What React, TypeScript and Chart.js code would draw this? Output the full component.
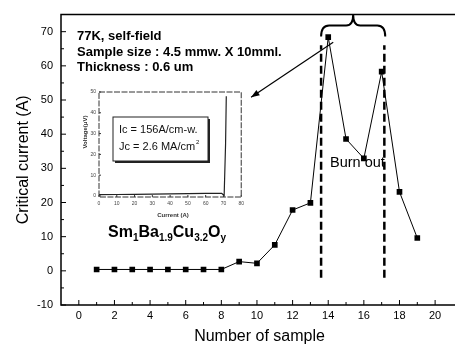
import React, { useEffect, useRef } from "react";
import { Chart, registerables } from "chart.js";

Chart.register(...registerables);

// ---- Data ----
const sampleNumbers = [1, 2, 3, 4, 5, 6, 7, 8, 9, 10, 11, 12, 13, 14, 15, 16, 17, 18, 19];
const criticalCurrent = [0.4, 0.4, 0.4, 0.4, 0.4, 0.4, 0.4, 0.4, 2.7, 2.2, 7.6, 17.8, 19.9, 68.4, 38.6, 32.9, 58.3, 23.1, 9.6];
const xTickValues = [0, 2, 4, 6, 8, 10, 12, 14, 16, 18, 20];
const yTickValues = [-10, 0, 10, 20, 30, 40, 50, 60, 70];
const burnoutLineX = [13.6, 17.15];
const burnoutLineY = [-2, 66];
const braceX = [13.6, 17.2];
const arrowFrom = [14.28, 66.9];
const arrowTo = [9.67, 50.8];
const noteLines = ["77K, self-field", "Sample size : 4.5 mmw. X 10mml.", "Thickness : 0.6 um"];
const burnoutLabel = "Burn out";
const xTitle = "Number of sample";
const yTitle = "Critical current (A)";

const insetCurrent = [0, 10, 20, 30, 40, 50, 60, 69, 70.4, 71.2, 71.6];
const insetVoltage = [0.6, 0.7, 0.8, 0.9, 1.0, 1.1, 1.2, 1.3, 0.2, 25, 48];
const insetXTicks = [0, 10, 20, 30, 40, 50, 60, 70, 80];
const insetYTicks = [0, 10, 20, 30, 40, 50];
const insetNotes = ["Ic = 156A/cm-w.", "Jc = 2.6 MA/cm"];

const FONT = "'Liberation Sans', Arial, sans-serif";

const mainDecor = {
  id: "mainDecor",
  afterDraw(chart: any) {
    const ctx = chart.ctx;
    const { left, right, top, bottom } = chart.chartArea;
    const xs = chart.scales.x;
    const ys = chart.scales.y;
    const px = (v: number) => xs.getPixelForValue(v);
    const py = (v: number) => ys.getPixelForValue(v);
    ctx.save();
    ctx.strokeStyle = "#000";
    ctx.fillStyle = "#000";
    // frame
    ctx.lineWidth = 1.5;
    ctx.beginPath();
    ctx.moveTo(right + 2, top);
    ctx.lineTo(left, top);
    ctx.lineTo(left, bottom);
    ctx.lineTo(right + 2, bottom);
    ctx.stroke();
    // inward ticks
    ctx.lineWidth = 1;
    ctx.beginPath();
    for (let v = 0; v <= 20; v++) {
      const len = v % 2 === 0 ? 5 : 3;
      ctx.moveTo(px(v), bottom);
      ctx.lineTo(px(v), bottom - len);
    }
    for (let v = -10; v <= 70; v += 5) {
      const len = v % 10 === 0 ? 5 : 3;
      ctx.moveTo(left, py(v));
      ctx.lineTo(left + len, py(v));
    }
    ctx.stroke();
    // arrow
    const ax0 = px(arrowFrom[0]), ay0 = py(arrowFrom[1]);
    const ax1 = px(arrowTo[0]), ay1 = py(arrowTo[1]);
    ctx.lineWidth = 1.2;
    ctx.beginPath();
    ctx.moveTo(ax0, ay0);
    ctx.lineTo(ax1, ay1);
    ctx.stroke();
    const ang = Math.atan2(ay1 - ay0, ax1 - ax0);
    ctx.beginPath();
    ctx.moveTo(ax1, ay1);
    ctx.lineTo(ax1 - 9 * Math.cos(ang - 0.35), ay1 - 9 * Math.sin(ang - 0.35));
    ctx.lineTo(ax1 - 9 * Math.cos(ang + 0.35), ay1 - 9 * Math.sin(ang + 0.35));
    ctx.closePath();
    ctx.fill();
    // brace
    const bl = px(braceX[0]), br = px(braceX[1]);
    const bm = (bl + br) / 2;
    const yEnd = top + 22, yBar = top + 11, ySpike = top;
    ctx.lineWidth = 2;
    ctx.beginPath();
    ctx.moveTo(bl, yEnd);
    ctx.quadraticCurveTo(bl, yBar, bl + 8, yBar);
    ctx.lineTo(bm - 7, yBar);
    ctx.quadraticCurveTo(bm, yBar, bm, ySpike);
    ctx.quadraticCurveTo(bm, yBar, bm + 7, yBar);
    ctx.lineTo(br - 8, yBar);
    ctx.quadraticCurveTo(br, yBar, br, yEnd);
    ctx.stroke();
    // notes
    ctx.font = `bold 13px ${FONT}`;
    ctx.textBaseline = "middle";
    ctx.textAlign = "left";
    noteLines.forEach((t, i) => ctx.fillText(t, left + 16, top + 22 + i * 15.5));
    // formula
    let fx = 108;
    const fy = 237;
    const parts: [string, boolean][] = [["Sm", false], ["1", true], ["Ba", false], ["1.9", true], ["Cu", false], ["3.2", true], ["O", false], ["y", true]];
    ctx.textBaseline = "alphabetic";
    parts.forEach(([t, sub]) => {
      ctx.font = sub ? `bold 10px ${FONT}` : `bold 16px ${FONT}`;
      ctx.fillText(t, fx, sub ? fy + 4 : fy);
      fx += ctx.measureText(t).width;
    });
    // burn out
    ctx.font = `14.5px ${FONT}`;
    ctx.textBaseline = "middle";
    ctx.fillText(burnoutLabel, 330, 163);
    // axis titles
    ctx.font = `16px ${FONT}`;
    ctx.textAlign = "center";
    ctx.fillText(xTitle, (left + right) / 2 + 2, 337);
    ctx.save();
    ctx.translate(24, (top + bottom) / 2);
    ctx.rotate(-Math.PI / 2);
    ctx.fillText(yTitle, 0, 0);
    ctx.restore();
    ctx.restore();
  },
};

const insetDecor = {
  id: "insetDecor",
  afterDraw(chart: any) {
    const ctx = chart.ctx;
    const { left, right, top, bottom } = chart.chartArea;
    const xs = chart.scales.x;
    const ys = chart.scales.y;
    ctx.save();
    ctx.strokeStyle = "#333";
    ctx.lineWidth = 1;
    ctx.setLineDash([6, 1.5]);
    ctx.strokeRect(left, top, right - left, bottom - top);
    ctx.setLineDash([]);
    ctx.beginPath();
    insetXTicks.forEach((v) => {
      const x = xs.getPixelForValue(v);
      ctx.moveTo(x, bottom);
      ctx.lineTo(x, bottom - 2);
    });
    insetYTicks.forEach((v) => {
      const y = ys.getPixelForValue(v);
      ctx.moveTo(left, y);
      ctx.lineTo(left + 2, y);
    });
    ctx.stroke();
    // titles
    ctx.fillStyle = "#333";
    ctx.font = `bold 6px ${FONT}`;
    ctx.textAlign = "center";
    ctx.textBaseline = "middle";
    ctx.fillText("Current (A)", 97, 129);
    ctx.save();
    ctx.translate(9, 46);
    ctx.rotate(-Math.PI / 2);
    ctx.fillText("Voltage(\u03bcV)", 0, 0);
    ctx.restore();
    // note box
    const bx = 37, by = 31, bw = 95, bh = 44;
    ctx.fillStyle = "#222";
    ctx.fillRect(bx + 2, by + 2, bw, bh);
    ctx.fillStyle = "#fff";
    ctx.fillRect(bx, by, bw, bh);
    ctx.strokeStyle = "#222";
    ctx.strokeRect(bx, by, bw, bh);
    ctx.fillStyle = "#111";
    ctx.font = `11px ${FONT}`;
    ctx.textAlign = "left";
    ctx.fillText(insetNotes[0], bx + 6, by + 13);
    ctx.fillText(insetNotes[1], bx + 6, by + 30);
    const w = ctx.measureText(insetNotes[1]).width;
    ctx.font = `6px ${FONT}`;
    ctx.fillText("2", bx + 6 + w + 1, by + 25);
    ctx.restore();
  },
};

export default function App() {
  const mainRef = useRef<HTMLCanvasElement>(null);
  const insetRef = useRef<HTMLCanvasElement>(null);

  useEffect(() => {
    const tickFont = { family: FONT, size: 11 };
    const main = new Chart(mainRef.current as HTMLCanvasElement, {
      type: "scatter",
      data: {
        datasets: [
          {
            data: sampleNumbers.map((x, i) => ({ x, y: criticalCurrent[i] })),
            showLine: true,
            borderColor: "#000",
            borderWidth: 1,
            pointStyle: "rect",
            pointRadius: 4,
            pointBackgroundColor: "#000",
            pointBorderWidth: 0,
          },
          ...burnoutLineX.map((x) => ({
            data: burnoutLineY.map((y) => ({ x, y })),
            showLine: true,
            borderColor: "#000",
            borderWidth: 2.5,
            borderDash: [8, 4],
            pointRadius: 0,
          })),
        ],
      } as any,
      options: {
        responsive: false,
        animation: false,
        devicePixelRatio: 1,
        layout: { padding: { top: 10, right: 0, left: 0, bottom: 0 } },
        plugins: { legend: { display: false }, tooltip: { enabled: false } },
        scales: {
          x: {
            type: "linear",
            min: -1,
            max: 21.06,
            grid: { display: false, drawTicks: false },
            border: { display: false },
            ticks: { font: tickFont, color: "#000", padding: 4, maxRotation: 0, autoSkip: false },
            afterBuildTicks: (s: any) => {
              s.ticks = xTickValues.map((v) => ({ value: v }));
            },
            afterFit: (s: any) => {
              s.height = 44;
            },
          },
          y: {
            type: "linear",
            min: -10,
            max: 75,
            grid: { display: false, drawTicks: false },
            border: { display: false },
            ticks: { font: tickFont, color: "#000", padding: 8, autoSkip: false },
            afterBuildTicks: (s: any) => {
              s.ticks = yTickValues.map((v) => ({ value: v }));
            },
            afterFit: (s: any) => {
              s.width = 61;
            },
          },
        },
      } as any,
      plugins: [mainDecor],
    });

    const insetFont = { family: FONT, size: 5 };
    const inset = new Chart(insetRef.current as HTMLCanvasElement, {
      type: "scatter",
      data: {
        datasets: [
          {
            data: insetCurrent.map((x, i) => ({ x, y: insetVoltage[i] })),
            showLine: true,
            borderColor: "#222",
            borderWidth: 1.2,
            pointRadius: 0,
          },
        ],
      } as any,
      options: {
        responsive: false,
        animation: false,
        devicePixelRatio: 1,
        layout: { padding: { top: 5, right: 3, left: 0, bottom: 0 } },
        plugins: { legend: { display: false }, tooltip: { enabled: false } },
        scales: {
          x: {
            type: "linear",
            min: 0,
            max: 80,
            grid: { display: false, drawTicks: false },
            border: { display: false },
            ticks: { font: insetFont, color: "#444", padding: 4, maxRotation: 0, autoSkip: false },
            afterBuildTicks: (s: any) => {
              s.ticks = insetXTicks.map((v) => ({ value: v }));
            },
            afterFit: (s: any) => {
              s.height = 25;
            },
          },
          y: {
            type: "linear",
            min: -0.5,
            max: 50,
            grid: { display: false, drawTicks: false },
            border: { display: false },
            ticks: { font: insetFont, color: "#444", padding: 3, autoSkip: false },
            afterBuildTicks: (s: any) => {
              s.ticks = insetYTicks.map((v) => ({ value: v }));
            },
            afterFit: (s: any) => {
              s.width = 23;
            },
          },
        },
      } as any,
      plugins: [insetDecor],
    });

    return () => {
      main.destroy();
      inset.destroy();
    };
  }, []);

  return (
    <div style={{ position: "fixed", left: 0, top: 0, width: 455, height: 349, overflow: "hidden", background: "#fff" }}>
      <canvas ref={mainRef} width={458} height={349} style={{ position: "absolute", left: 0, top: 0 }} />
      <canvas ref={insetRef} width={172} height={136} style={{ position: "absolute", left: 76, top: 86 }} />
    </div>
  );
}
